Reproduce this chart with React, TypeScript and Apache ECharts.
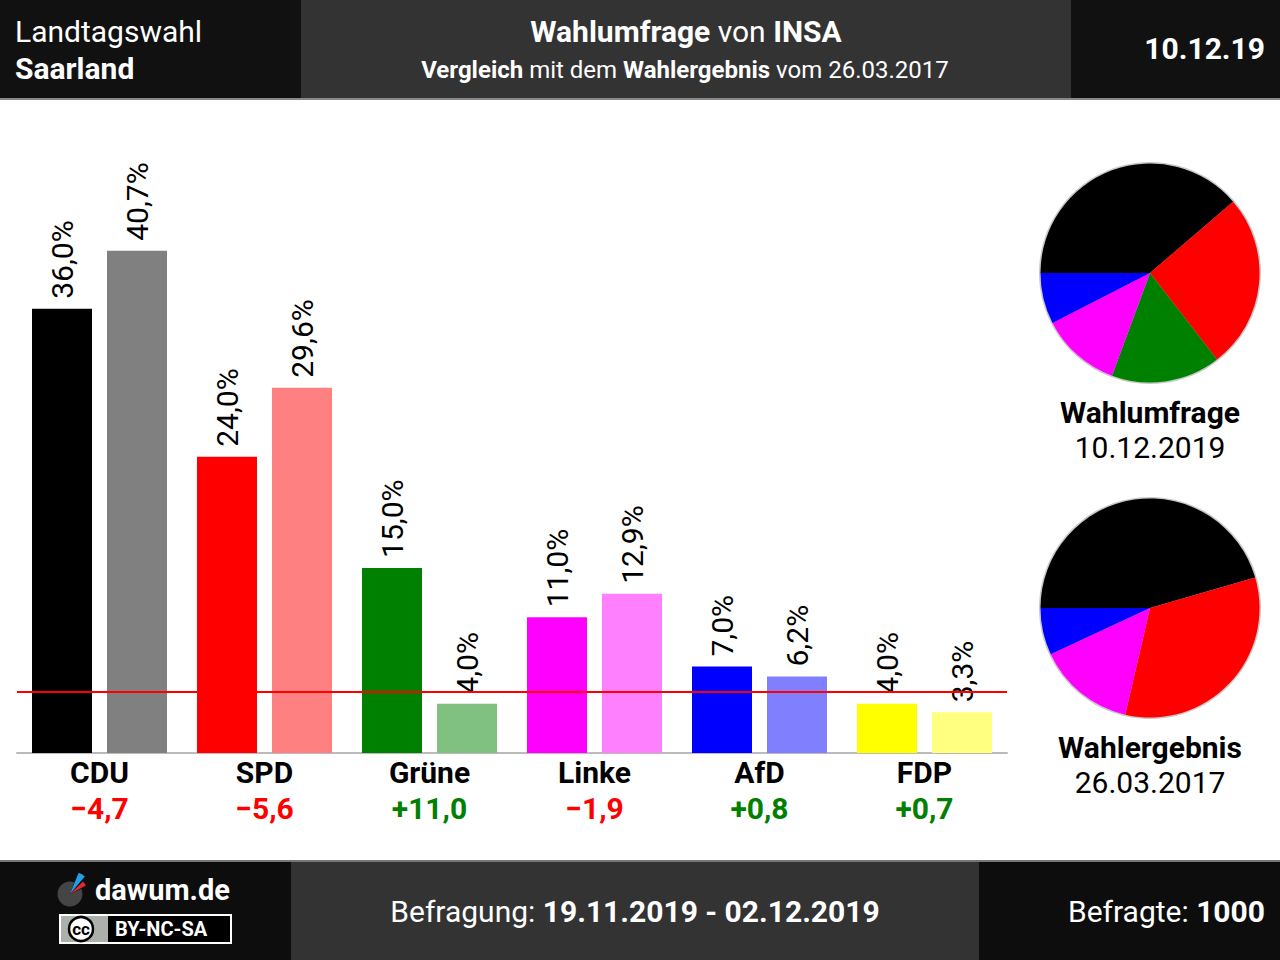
import React, { useEffect, useRef } from "react";
import * as echarts from "echarts";

const categories = ["CDU", "SPD", "Grüne", "Linke", "AfD", "FDP"];
const pollValues = [36.0, 24.0, 15.0, 11.0, 7.0, 4.0];
const resultValues = [40.7, 29.6, 4.0, 12.9, 6.2, 3.3];
const pollColors = ["#000000", "#ff0000", "#008000", "#ff00ff", "#0000ff", "#ffff00"];
const resultColors = ["#808080", "#ff8080", "#80c080", "#ff80ff", "#8080ff", "#ffff80"];
const threshold = 5;

const FONT = "Roboto";
const FS = 30;

const fmtPct = (v: number) => v.toFixed(1).replace(".", ",") + "%";
const diffOf = (i: number) => Math.round((pollValues[i] - resultValues[i]) * 10) / 10;
const fmtDiff = (d: number) => (d > 0 ? "+" : "\u2212") + Math.abs(d).toFixed(1).replace(".", ",");

function txt(x: number, y: number, text: string, opts: any = {}) {
  return {
    type: "text",
    x,
    y,
    silent: true,
    style: {
      text,
      fill: opts.fill || "#fff",
      fontSize: opts.fontSize || FS,
      fontWeight: opts.fontWeight || "normal",
      fontFamily: FONT,
      align: opts.align || "left",
      verticalAlign: "middle",
      rich: opts.rich,
    },
  };
}

export default function App() {
  const ref = useRef<HTMLDivElement>(null);
  useEffect(() => {
    document.body.style.margin = "0";
    const chart = echarts.init(ref.current!, null, { renderer: "svg" });
    const pieData = (vals: number[]) =>
      categories
        .map((c, i) => ({ name: c, value: vals[i], itemStyle: { color: pollColors[i] } }))
        .filter((d) => d.value > threshold);

    const boldRich = (size: number) => ({
      b: { fontWeight: "bold", fontSize: size, fontFamily: FONT, fill: "#fff", color: "#fff" },
      n: { fontWeight: "normal", fontSize: size, fontFamily: FONT, fill: "#fff", color: "#fff" },
    });

    const deg = Math.PI / 180;

    const barLabel = {
      show: true,
      position: "top",
      rotate: 90,
      align: "left",
      verticalAlign: "middle",
      distance: 10,
      fontFamily: FONT,
      fontSize: FS,
      color: "#000",
      formatter: (p: any) => fmtPct(p.value),
    };

    const option: any = {
      animation: false,
      backgroundColor: "#ffffff",
      grid: { left: 17, width: 990, top: 136, height: 617 },
      xAxis: {
        type: "category",
        data: categories,
        axisLine: { lineStyle: { color: "#bbbbbb", width: 2 } },
        axisTick: { show: false },
        axisLabel: {
          margin: 1,
          interval: 0,
          formatter: (value: string, idx: number) => {
            const d = diffOf(idx);
            return `{n|${value}}\n{${d < 0 ? "neg" : "pos"}|${fmtDiff(d)}}`;
          },
          rich: {
            n: { fontFamily: FONT, fontSize: FS, fontWeight: "bold", color: "#000", lineHeight: 36 },
            neg: { fontFamily: FONT, fontSize: FS, fontWeight: "bold", color: "#ff0000", lineHeight: 36 },
            pos: { fontFamily: FONT, fontSize: FS, fontWeight: "bold", color: "#008000", lineHeight: 36 },
          },
        },
      },
      yAxis: {
        type: "value",
        min: 0,
        max: 50,
        show: false,
        splitLine: { show: false },
      },
      series: [
        {
          type: "bar",
          name: "Wahlumfrage",
          barWidth: 60,
          barGap: "25%",
          data: pollValues.map((v, i) => ({ value: v, itemStyle: { color: pollColors[i] } })),
          label: barLabel,
          markLine: {
            silent: true,
            symbol: ["none", "none"],
            label: { show: false },
            lineStyle: { color: "#ff0000", width: 2, type: "solid" },
            data: [{ yAxis: threshold }],
          },
        },
        {
          type: "bar",
          name: "Wahlergebnis",
          barWidth: 60,
          barGap: "25%",
          data: resultValues.map((v, i) => ({ value: v, itemStyle: { color: resultColors[i] } })),
          label: barLabel,
        },
        {
          type: "pie",
          silent: true,
          center: [1150, 273],
          radius: 111,
          label: { show: false },
          itemStyle: { color: "#c8c8c8", borderWidth: 0 },
          data: [{ name: "rim", value: 1 }],
          z: 1,
        },
        {
          type: "pie",
          silent: true,
          center: [1150, 273],
          radius: 109.5,
          startAngle: 180,
          clockwise: true,
          label: { show: false },
          labelLine: { show: false },
          itemStyle: { borderWidth: 0 },
          data: pieData(pollValues),
          z: 2,
        },
        {
          type: "pie",
          silent: true,
          center: [1150, 608],
          radius: 111,
          label: { show: false },
          itemStyle: { color: "#c8c8c8", borderWidth: 0 },
          data: [{ name: "rim", value: 1 }],
          z: 1,
        },
        {
          type: "pie",
          silent: true,
          center: [1150, 608],
          radius: 109.5,
          startAngle: 180,
          clockwise: true,
          label: { show: false },
          labelLine: { show: false },
          itemStyle: { borderWidth: 0 },
          data: pieData(resultValues),
          z: 2,
        },
      ],
      graphic: [
        // header
        { type: "rect", silent: true, shape: { x: 0, y: 0, width: 301, height: 98 }, style: { fill: "#111111" } },
        { type: "rect", silent: true, shape: { x: 301, y: 0, width: 770, height: 98 }, style: { fill: "#333333" } },
        { type: "rect", silent: true, shape: { x: 1071, y: 0, width: 209, height: 98 }, style: { fill: "#111111" } },
        { type: "rect", silent: true, shape: { x: 0, y: 98, width: 1280, height: 2 }, style: { fill: "#888888" } },
        txt(15, 31, "Landtagswahl"),
        txt(15, 68, "Saarland", { fontWeight: "bold" }),
        txt(686, 31, "{b|Wahlumfrage} {n|von} {b|INSA}", { align: "center", rich: boldRich(FS) }),
        txt(685, 70, "{b|Vergleich} {n|mit dem} {b|Wahlergebnis} {n|vom 26.03.2017}", {
          align: "center",
          fontSize: 24,
          rich: boldRich(24),
        }),
        txt(1265, 48, "10.12.19", { align: "right", fontWeight: "bold" }),
        // pie captions
        txt(1150, 412, "Wahlumfrage", { align: "center", fontWeight: "bold", fill: "#000" }),
        txt(1150, 447, "10.12.2019", { align: "center", fill: "#000" }),
        txt(1150, 747, "Wahlergebnis", { align: "center", fontWeight: "bold", fill: "#000" }),
        txt(1150, 782, "26.03.2017", { align: "center", fill: "#000" }),
        // footer
        { type: "rect", silent: true, shape: { x: 0, y: 860, width: 1280, height: 2 }, style: { fill: "#777777" } },
        { type: "rect", silent: true, shape: { x: 0, y: 862, width: 291, height: 98 }, style: { fill: "#0d0d0d" } },
        { type: "rect", silent: true, shape: { x: 291, y: 862, width: 688, height: 98 }, style: { fill: "#333333" } },
        { type: "rect", silent: true, shape: { x: 979, y: 862, width: 301, height: 98 }, style: { fill: "#0d0d0d" } },
        // logo
        {
          type: "sector",
          silent: true,
          shape: { cx: 70, cy: 894, r: 12.5, r0: 0, startAngle: -25 * deg, endAngle: 290 * deg, clockwise: true },
          style: { fill: "#454545" },
        },
        {
          type: "sector",
          silent: true,
          shape: { cx: 70, cy: 894, r: 23, r0: 0, startAngle: -68 * deg, endAngle: -50 * deg, clockwise: true },
          style: { fill: "#1ea0e6" },
        },
        {
          type: "sector",
          silent: true,
          shape: { cx: 70, cy: 894, r: 18, r0: 0, startAngle: -44 * deg, endAngle: -28 * deg, clockwise: true },
          style: { fill: "#e6282d" },
        },
        txt(95, 890, "dawum.de", { fontWeight: "bold", fontSize: 29 }),
        // cc badge
        { type: "rect", silent: true, shape: { x: 60, y: 915, width: 171, height: 28 }, style: { fill: "#000", stroke: "#fff", lineWidth: 2 } },
        { type: "rect", silent: true, shape: { x: 61, y: 916, width: 47, height: 26 }, style: { fill: "#abb1aa" } },
        { type: "circle", silent: true, shape: { cx: 81, cy: 929, r: 12 }, style: { fill: "#fff", stroke: "#000", lineWidth: 2.5 } },
        txt(81, 929, "cc", { align: "center", fontWeight: "bold", fontSize: 17, fill: "#000" }),
        txt(115, 929, "BY-NC-SA", { fontWeight: "bold", fontSize: 20 }),
        txt(635, 911, "{n|Befragung:} {b|19.11.2019 - 02.12.2019}", { align: "center", rich: boldRich(FS) }),
        txt(1265, 911, "{n|Befragte:} {b|1000}", { align: "right", rich: boldRich(FS) }),
      ],
    };
    chart.setOption(option);
    return () => chart.dispose();
  }, []);
  return <div ref={ref} style={{ width: 1280, height: 960 }} />;
}
